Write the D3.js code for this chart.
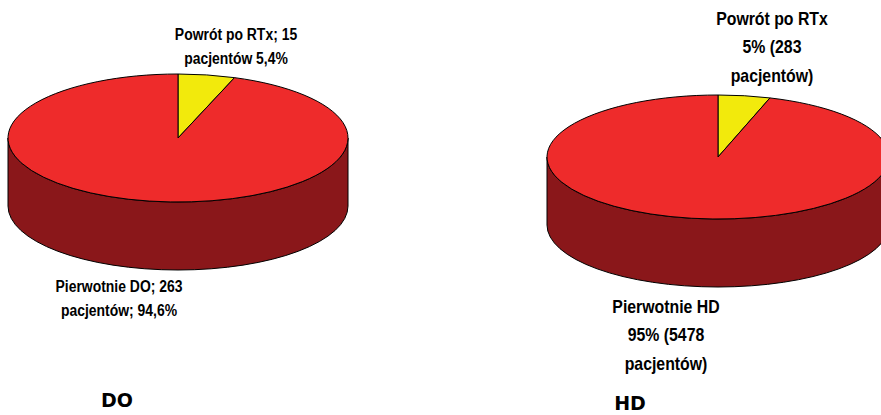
<!DOCTYPE html>
<html>
<head>
<meta charset="utf-8">
<script src="https://cdn.jsdelivr.net/npm/d3@7"></script>
<style>
  html, body { margin: 0; padding: 0; background: #fff; }
  svg { display: block; }
  .lbl { font-family: "Liberation Sans", Arial, sans-serif; font-weight: bold; fill: #000; }
  .ttl { font-family: "DejaVu Sans", Verdana, sans-serif; font-weight: bold; fill: #000; }
</style>
</head>
<body>
<script>
// Categories and patient counts for the two pies
const categoriesDO = ["Powrót po RTx", "Pierwotnie DO"];
const valuesDO = [15, 263];
const categoriesHD = ["Powrót po RTx", "Pierwotnie HD"];
const valuesHD = [283, 5478];

// Slice labels (one array of lines per slice)
const labelsDO = [["Powrót po RTx; 15", "pacjentów 5,4%"], ["Pierwotnie DO; 263", "pacjentów; 94,6%"]];
const labelsHD = [["Powrót po RTx", "5% (283", "pacjentów)"], ["Pierwotnie HD", "95% (5478", "pacjentów)"]];
const titles = ["DO", "HD"];

const W = 881, H = 415;
const svg = d3.select("body").append("svg").attr("width", W).attr("height", H);

const topColor = d3.scaleOrdinal().domain([0, 1]).range(["#f2ea0c", "#ee2b2b"]);
const sideColor = d3.scaleOrdinal().domain([0, 1]).range(["#9a9400", "#8a171a"]);

function drawPie(cfg) {
  const { cx, cy, rx, ry, depth, values, labels, labelPos, fontSize, squeeze, lineH, title, titlePos } = cfg;
  const pie = d3.pie().sort(null).startAngle(0).endAngle(2 * Math.PI);
  const arcs = pie(values);
  const pt = (a, dy = 0) => [cx + rx * Math.sin(a), cy - ry * Math.cos(a) + dy];
  const g = svg.append("g");

  // side wall: only the front half (angles between pi/2 and 3pi/2) is visible
  arcs.forEach((d, i) => {
    const s = Math.max(d.startAngle, Math.PI / 2);
    const e = Math.min(d.endAngle, 3 * Math.PI / 2);
    if (e <= s) return;
    const p0 = pt(s), p1 = pt(e), q1 = pt(e, depth), q0 = pt(s, depth);
    const large = (e - s) > Math.PI ? 1 : 0;
    const path = `M${p0}A${rx},${ry} 0 ${large} 1 ${p1}L${q1}A${rx},${ry} 0 ${large} 0 ${q0}Z`;
    g.append("path").attr("d", path)
      .attr("fill", sideColor(i)).attr("stroke", "#000").attr("stroke-width", 1)
      .attr("stroke-linejoin", "round");
  });

  // top face slices
  arcs.forEach((d, i) => {
    const p0 = pt(d.startAngle), p1 = pt(d.endAngle);
    const large = (d.endAngle - d.startAngle) > Math.PI ? 1 : 0;
    const path = `M${cx},${cy}L${p0}A${rx},${ry} 0 ${large} 1 ${p1}Z`;
    g.append("path").attr("d", path)
      .attr("fill", topColor(i)).attr("stroke", "#000").attr("stroke-width", 1)
      .attr("stroke-linejoin", "round");
  });

  // slice labels, squeezed horizontally for a condensed face
  labels.forEach((lines, i) => {
    const t = g.append("text").attr("class", "lbl")
      .attr("text-anchor", "middle")
      .attr("font-size", fontSize)
      .attr("transform", `translate(${labelPos[i][0]},${labelPos[i][1]}) scale(${squeeze},1)`);
    lines.forEach((ln, k) => {
      t.append("tspan").attr("x", 0).attr("y", k * lineH).text(ln);
    });
  });

  g.append("text").attr("class", "ttl")
    .attr("x", titlePos[0]).attr("y", titlePos[1])
    .attr("text-anchor", "middle").attr("font-size", 19)
    .text(title);
}

drawPie({
  cx: 178, cy: 138, rx: 170, ry: 64, depth: 68,
  values: valuesDO, labels: labelsDO,
  labelPos: [[236, 40], [119, 292]], fontSize: 17, squeeze: 0.82, lineH: 24,
  title: titles[0], titlePos: [117, 407]
});

drawPie({
  cx: 718, cy: 157, rx: 171, ry: 62, depth: 68,
  values: valuesHD, labels: labelsHD,
  labelPos: [[772, 25], [666, 313]], fontSize: 18, squeeze: 0.88, lineH: 28.5,
  title: titles[1], titlePos: [630, 410]
});
</script>
</body>
</html>
